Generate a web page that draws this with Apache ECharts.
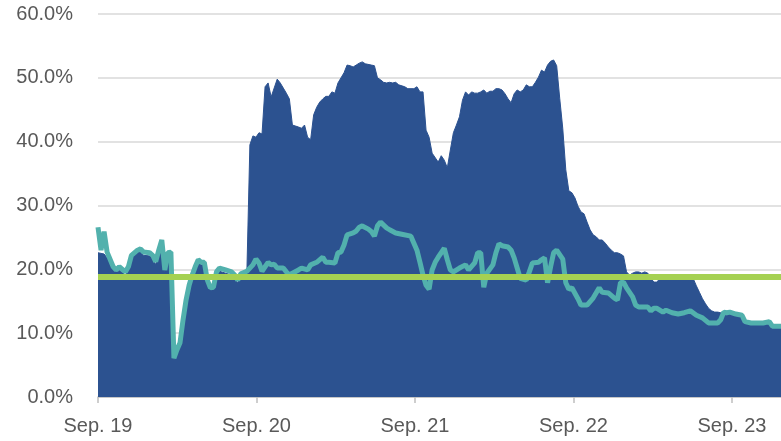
<!DOCTYPE html>
<html>
<head>
<meta charset="utf-8">
<script src="https://cdn.jsdelivr.net/npm/echarts@6/dist/echarts.min.js"></script>
<style>
html,body{margin:0;padding:0;background:#fff;}
#chart{width:781px;height:441px;}
</style>
</head>
<body>
<div id="chart"></div>
<script>
// x values: weeks since start of September 2019
const tickLabels = ['Sep. 19', 'Sep. 20', 'Sep. 21', 'Sep. 22', 'Sep. 23'];
const weeksPerYear = 365.25 / 7;
const lastWeek = 224.85;

const darkWeeks = [0,2,3,5,6,7,9,10,11,13,14,15,17,18,19,20,21,22,23,24,25,26,27,28,29,30,31,32,33,34,35,36,37,38,39,40,42,44,45,46,47,49,50,51,52,53,54,55,56,57,59,60,61,62,63,64,66,67,68,69,70,71,72,73,74,75,76,77,78,79,81,82,83,84,85,86,87,88,90,91,92,93,94,95,96,97,98,99,101,102,104,105,106,107,108,109,110,112,113,114,115,116,117,118,119,120,121,122,123,124,125,126,127,128,129,130,131,132,133,134,135,136,137,138,139,140,141,142,143,144,145,146,147,148,149,150,151,152,153,154,155,156,157,158,159,160,161,162,163,164,165,166,167,168,169,170,171,172,173,174,175,176,177,178,179,180,181,182,183,184,185,186,188,190,192,194,196,197,198,199,200,201,202,203,204,205,206,207,208,210,212,213,215,217,219,221,222,225];
const darkVals = [22.6,22.4,21.8,19.9,19.6,19.9,19.1,19.9,21.8,22.6,22.7,22.2,22.1,21.8,20.7,22.6,23.8,19.6,22.1,22.1,5.8,7.1,8.1,11.7,14.9,17.1,18.6,19.9,21.0,20.7,20.7,17.9,16.8,16.8,19.1,19.7,19.4,19.1,18.6,17.9,18.8,19.3,39.5,40.9,40.7,41.4,41.2,48.6,49.2,47.0,49.8,49.2,48.4,47.6,46.7,42.6,42.3,42.1,42.6,40.7,40.3,44.2,45.4,46.2,46.7,47.1,47.1,47.8,47.6,49.2,50.8,52.0,51.9,51.7,52.0,52.3,52.5,52.2,52.0,51.9,50.0,49.7,49.3,49.2,49.3,49.2,49.3,48.9,48.6,48.3,48.3,48.6,47.8,47.8,41.8,40.7,38.2,36.8,37.8,37.1,35.9,38.7,41.4,42.6,43.9,46.5,47.8,47.3,47.8,47.6,47.6,47.8,48.1,47.6,47.9,47.9,48.3,48.3,48.1,47.5,46.7,46.1,47.5,48.1,47.8,48.1,48.9,48.6,48.6,49.3,50.1,51.2,50.9,52.0,52.6,52.8,51.9,46.8,42.1,35.6,32.3,32.0,31.2,29.9,29.0,28.7,27.4,26.2,25.4,25.1,24.6,24.6,24.1,23.5,23.0,22.6,22.6,22.4,22.1,19.6,19.1,19.4,19.6,19.6,19.4,19.6,19.4,18.6,18.0,18.0,18.6,18.8,19.0,18.8,18.8,18.8,18.5,17.4,16.4,15.4,14.6,13.9,13.5,13.3,13.3,13.2,13.0,12.8,13.0,12.7,12.5,11.6,11.3,11.3,11.3,11.4,10.8,10.8];

const tealWeeks = [0,1,2,3,5,6,7,9,10,11,13,14,15,17,18,19,20,21,22,23,24,25,26,27,28,29,30,31,32,33,34,35,36,37,38,39,40,42,44,45,46,47,49,51,52,53,54,55,56,57,58,59,61,62,63,64,66,67,69,70,72,74,75,76,78,79,80,81,82,84,85,86,87,89,90,91,92,93,95,96,98,100,103,104,105,106,107,108,109,110,111,112,114,115,116,117,119,121,122,124,125,126,127,128,130,131,132,133,135,136,137,138,139,141,142,143,145,146,147,148,149,150,151,153,154,155,156,158,159,161,163,165,166,168,170,171,172,173,174,176,177,178,181,182,183,184,186,187,189,191,193,195,197,199,201,204,205,206,207,208,210,212,213,215,217,219,221,222,225];
const tealVals = [26.6,23.0,25.9,22.7,20.4,19.9,20.4,19.6,20.4,22.2,23.0,23.2,22.7,22.6,22.2,21.2,23.0,24.6,19.9,22.6,22.7,6.1,7.4,8.5,12.1,15.2,17.5,19.1,20.4,21.5,21.1,21.1,18.3,17.1,17.2,19.6,20.2,19.9,19.6,19.1,18.3,19.3,19.7,20.7,21.6,21.0,19.7,20.4,21.1,20.7,20.8,20.2,20.2,19.6,19.1,19.4,19.9,20.2,19.9,20.7,21.1,21.9,21.1,21.1,21.0,22.6,22.7,23.8,25.4,25.7,26.0,26.6,26.8,26.3,25.9,25.2,26.8,27.4,26.5,26.2,25.7,25.5,25.2,24.1,23.0,21.1,19.1,17.5,16.9,19.9,21.1,21.9,23.3,21.5,19.9,19.6,20.2,20.7,19.9,21.0,22.6,22.6,17.2,19.4,20.7,22.6,24.0,23.7,23.5,23.0,21.8,20.2,18.6,18.3,19.6,21.0,21.1,21.5,21.8,17.9,20.4,22.6,23.0,21.6,17.9,16.9,17.1,15.4,14.4,14.4,15.5,17.1,16.4,16.3,15.5,15.2,17.9,18.0,17.1,15.7,14.4,14.1,14.1,13.5,13.9,13.9,13.3,13.6,13.2,13.0,13.2,13.5,12.8,12.4,11.6,11.6,12.1,13.3,13.2,13.3,13.0,12.8,11.8,11.6,11.6,11.6,11.8,11.1,11.1];

const benchmark = 18.8;

const darkData = darkWeeks.map((w, i) => [w, darkVals[i]]);
const tealData = tealWeeks.map((w, i) => [w, tealVals[i]]);
const benchData = [[0, benchmark], [lastWeek, benchmark]];

const chart = echarts.init(document.getElementById('chart'), null, {renderer: 'canvas'});
const labelFont = 'Liberation Sans';
chart.setOption({
  animation: false,
  grid: {left: 98, right: 0, top: 14, bottom: 44, containLabel: false},
  xAxis: {
    type: 'value',
    min: 0,
    max: lastWeek,
    interval: weeksPerYear,
    axisLine: {show: true, lineStyle: {color: '#bfbfbf', width: 1.5}},
    axisTick: {show: true, length: 6, lineStyle: {color: '#bfbfbf', width: 1.5}},
    splitLine: {show: false},
    axisLabel: {
      showMaxLabel: false,
      margin: 19,
      color: '#595959',
      fontFamily: labelFont,
      fontSize: 20,
      formatter: function (v) {
        const idx = Math.round(v / weeksPerYear);
        if (Math.abs(v - idx * weeksPerYear) > 0.5) return '';
        return tickLabels[idx] || '';
      }
    }
  },
  yAxis: {
    type: 'value',
    min: 0,
    max: 60,
    interval: 10,
    axisLine: {show: false},
    axisTick: {show: false},
    splitLine: {show: true, lineStyle: {color: '#d9d9d9', width: 1.5}},
    axisLabel: {
      margin: 25,
      color: '#595959',
      fontFamily: labelFont,
      fontSize: 20,
      formatter: v => v.toFixed(1) + '%'
    }
  },
  series: [
    {
      type: 'line',
      data: darkData,
      symbol: 'none',
      lineStyle: {width: 1, color: '#2c5290'},
      areaStyle: {color: '#2c5290', opacity: 1},
      z: 2
    },
    {
      type: 'line',
      data: tealData,
      symbol: 'none',
      lineStyle: {width: 5, color: '#52b1ad'},
      z: 3
    },
    {
      type: 'line',
      data: benchData,
      symbol: 'none',
      lineStyle: {width: 6, color: '#a5d152'},
      z: 4
    }
  ]
});
</script>
</body>
</html>
